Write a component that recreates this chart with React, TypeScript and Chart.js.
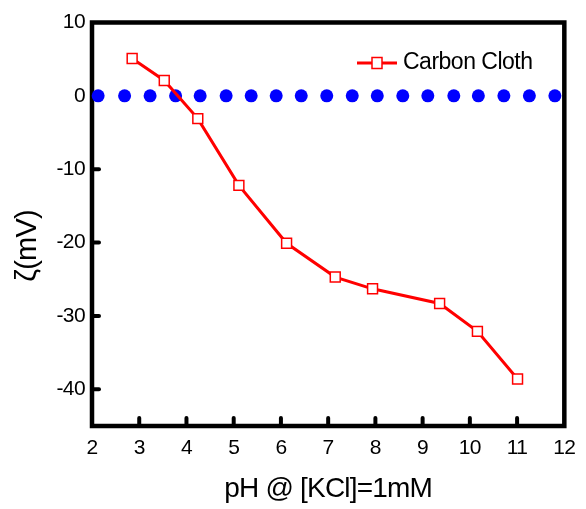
import React, { useEffect, useRef } from 'react';
import { Chart, registerables } from 'chart.js';

Chart.register(...registerables);

const seriesLabel = 'Carbon Cloth';
const phValues = [2.85, 3.53, 4.24, 5.11, 6.12, 7.15, 7.94, 9.36, 10.16, 11.01];
const zetaValues = [5.1, 2.1, -3.1, -12.2, -20.1, -24.7, -26.3, -28.3, -32.1, -38.6];

const refX = [2.13, 2.69, 3.23, 3.77, 4.29, 4.84, 5.37, 5.9, 6.43, 6.97, 7.51, 8.04, 8.58, 9.11, 9.66, 10.18, 10.72, 11.26, 11.8];
const refY = [0, 0, 0, 0, 0, 0, 0, 0, 0, 0, 0, 0, 0, 0, 0, 0, 0, 0, 0];

const xTicks = [2, 3, 4, 5, 6, 7, 8, 9, 10, 11, 12];
const yTicks = [10, 0, -10, -20, -30, -40];
const xMin = 2, xMax = 12, yMin = -45, yMax = 10;

const xTitle = 'pH @ [KCl]=1mM';
const yTitle = 'ζ(mV)';

const FONT = "'Liberation Sans', Arial, sans-serif";

const framePlugin = {
  id: 'frame',
  beforeDraw(chart: any) {
    chart.ctx.letterSpacing = '-0.6px';
  },
  beforeDatasetsDraw(chart: any) {
    const { ctx, chartArea: a, scales } = chart;
    ctx.save();
    ctx.strokeStyle = '#000';
    ctx.lineWidth = 4.5;
    ctx.lineJoin = 'miter';
    ctx.strokeRect(a.left, a.top, a.right - a.left, a.bottom - a.top);
    ctx.lineCap = 'round';
    ctx.lineWidth = 4;
    scales.x.ticks.forEach((t: any) => {
      if (t.value <= xMin || t.value >= xMax) return;
      const px = scales.x.getPixelForValue(t.value);
      ctx.beginPath();
      ctx.moveTo(px, a.bottom);
      ctx.lineTo(px, a.bottom - 8);
      ctx.stroke();
    });
    scales.y.ticks.forEach((t: any) => {
      if (t.value <= yMin || t.value >= yMax) return;
      const py = scales.y.getPixelForValue(t.value);
      ctx.beginPath();
      ctx.moveTo(a.left, py);
      ctx.lineTo(a.left + 7, py);
      ctx.stroke();
    });
    ctx.restore();
  },
  afterDraw(chart: any) {
    const { ctx, chartArea: a } = chart;
    ctx.save();
    ctx.fillStyle = '#000';
    ctx.letterSpacing = '-0.8px';
    // x title
    ctx.font = `28px ${FONT}`;
    ctx.textAlign = 'center';
    ctx.textBaseline = 'middle';
    ctx.fillText(xTitle, (a.left + a.right) / 2, 489);
    // y title
    ctx.save();
    ctx.translate(28, 246);
    ctx.rotate(-Math.PI / 2);
    ctx.font = `29px ${FONT}`;
    ctx.fillText(yTitle, 0, 0);
    ctx.restore();
    // legend
    const ly = 63;
    ctx.strokeStyle = '#ff0000';
    ctx.lineWidth = 3;
    ctx.beginPath();
    ctx.moveTo(357, ly);
    ctx.lineTo(397, ly);
    ctx.stroke();
    ctx.fillStyle = '#fff';
    ctx.lineWidth = 1.5;
    ctx.fillRect(372, ly - 5.5, 10, 11);
    ctx.strokeRect(372, ly - 5.5, 10, 11);
    ctx.fillStyle = '#000';
    ctx.letterSpacing = '-0.5px';
    ctx.font = `23px ${FONT}`;
    ctx.textAlign = 'left';
    ctx.fillText(seriesLabel, 403, ly);
    ctx.restore();
  },
};

export default function App() {
  const ref = useRef<HTMLCanvasElement>(null);
  useEffect(() => {
    if (!ref.current) return;
    const chart = new Chart(ref.current, {
      type: 'line',
      data: {
        datasets: [
          {
            label: seriesLabel,
            data: phValues.map((x, i) => ({ x, y: zetaValues[i] })),
            borderColor: '#ff0000',
            borderWidth: 3,
            pointStyle: 'rect',
            pointRadius: 7,
            pointBackgroundColor: '#ffffff',
            pointBorderColor: '#ff0000',
            pointBorderWidth: 1.5,
            clip: false,
            order: 1,
          } as any,
          {
            label: 'zero',
            data: refX.map((x, i) => ({ x, y: refY[i] })),
            showLine: false,
            pointStyle: 'circle',
            pointRadius: 6.5,
            pointBackgroundColor: '#0000ff',
            pointBorderColor: '#0000ff',
            pointBorderWidth: 0,
            clip: false,
            order: 2,
          } as any,
        ],
      },
      options: {
        responsive: false,
        animation: false,
        layout: { padding: { top: 22.5, right: 15.5, left: 0, bottom: 0 } },
        plugins: { legend: { display: false }, tooltip: { enabled: false } },
        scales: {
          x: {
            type: 'linear',
            min: xMin,
            max: xMax,
            grid: { display: false, drawTicks: false },
            border: { display: false },
            ticks: { font: { family: FONT, size: 21 }, color: '#000', padding: 10, maxRotation: 0, autoSkip: false },
            afterBuildTicks: (s: any) => { s.ticks = xTicks.map((v) => ({ value: v })); },
            afterFit: (s: any) => { s.height = 83; },
          },
          y: {
            type: 'linear',
            min: yMin,
            max: yMax,
            grid: { display: false, drawTicks: false },
            border: { display: false },
            ticks: { font: { family: FONT, size: 21 }, color: '#000', padding: 7, autoSkip: false },
            afterBuildTicks: (s: any) => { s.ticks = yTicks.map((v) => ({ value: v })); },
            afterFit: (s: any) => { s.width = 92; },
          },
        },
      } as any,
      plugins: [framePlugin],
    });
    return () => chart.destroy();
  }, []);
  return (
    <div style={{ position: 'fixed', left: 0, top: 0, width: 586, height: 509, background: '#fff' }}>
      <canvas ref={ref} width={586} height={509} style={{ width: 586, height: 509 }} />
    </div>
  );
}
